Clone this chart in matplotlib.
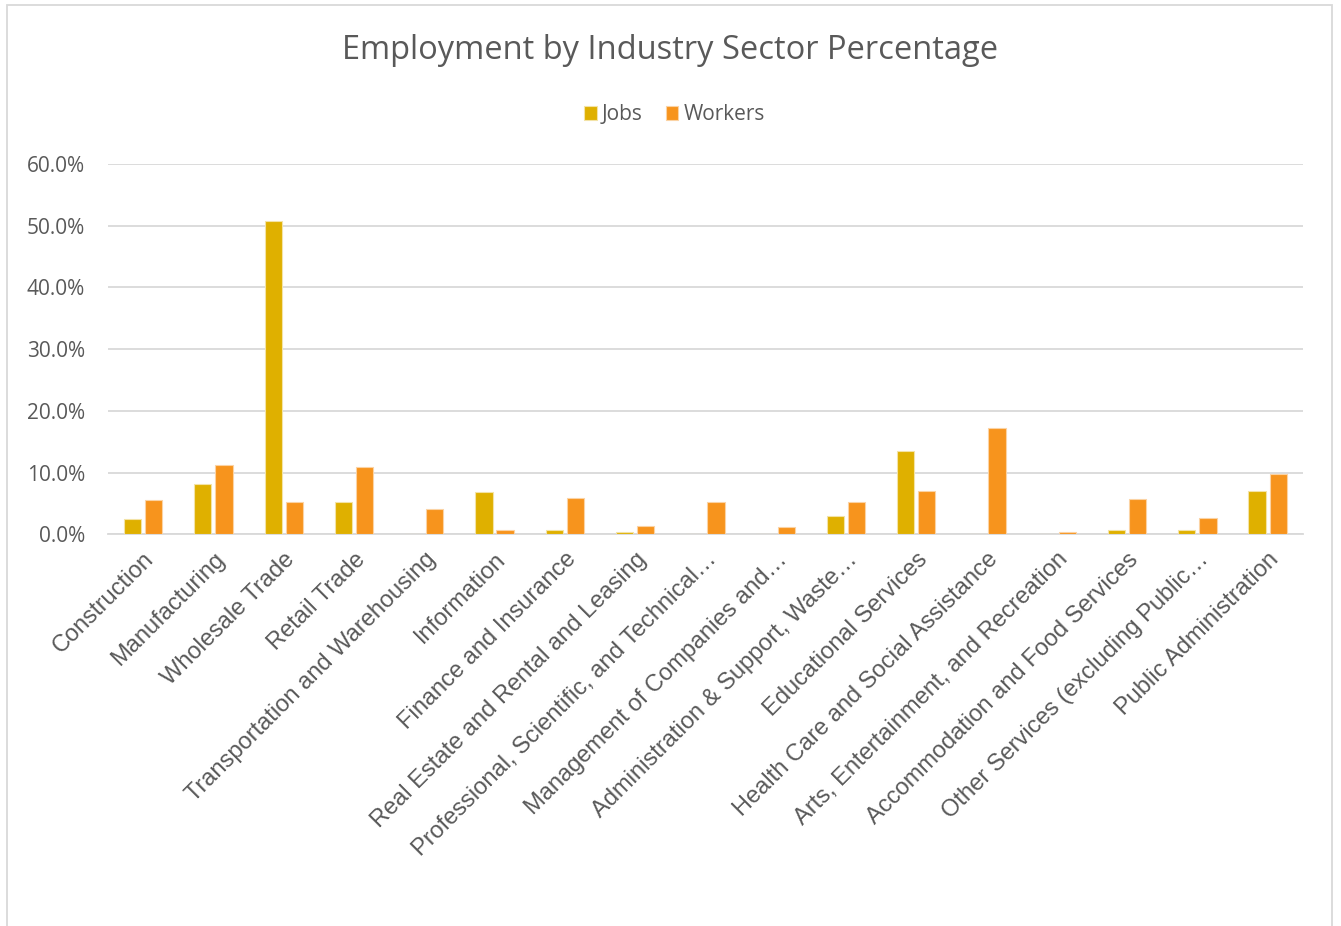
import numpy as np
import matplotlib.pyplot as plt
from matplotlib.patches import Rectangle
from matplotlib.ticker import FuncFormatter

# sector shares, in percent
sectors = [
    "Construction", "Manufacturing", "Wholesale Trade", "Retail Trade",
    "Transportation and Warehousing", "Information", "Finance and Insurance",
    "Real Estate and Rental and Leasing",
    "Professional, Scientific, and Technical\u2026",
    "Management of Companies and\u2026",
    "Administration & Support, Waste\u2026",
    "Educational Services", "Health Care and Social Assistance",
    "Arts, Entertainment, and Recreation",
    "Accommodation and Food Services",
    "Other Services (excluding Public\u2026",
    "Public Administration",
]
jobs = [2.5, 8.2, 50.8, 5.2, 0.0, 6.9, 0.8, 0.4, 0.0, 0.0, 3.0, 13.6, 0.0, 0.0, 0.7, 0.8, 7.0]
workers = [5.6, 11.3, 5.2, 10.9, 4.2, 0.7, 5.9, 1.4, 5.2, 1.2, 5.3, 7.0, 17.2, 0.35, 5.7, 2.6, 9.8]
yticks = [0, 10, 20, 30, 40, 50, 60]

jobs_color = "#DFB000"
workers_color = "#F7941D"
text_gray = "#595959"

fig = plt.figure(figsize=(13.41, 9.26), dpi=100)
ax = fig.add_axes([0.0805, 0.4228, 0.891, 0.4001])

x = np.arange(len(sectors))
w = 0.245
ax.bar(x - 0.15, jobs, w, color=jobs_color, edgecolor="#F3E3A6", linewidth=0.8,
       label="Jobs", zorder=3)
ax.bar(x + 0.15, workers, w, color=workers_color, edgecolor="#FBD3A4", linewidth=0.8,
       label="Workers", zorder=3)

ax.set_xlim(-0.5, len(sectors) - 0.5)
ax.set_ylim(0, 60)
ax.set_yticks(yticks)
ax.yaxis.set_major_formatter(FuncFormatter(lambda v, p: f"{v:.1f}%"))
ax.grid(axis="y", color="#D9D9D9", linewidth=1.3, zorder=0)
for s in ["top", "right", "left"]:
    ax.spines[s].set_visible(False)
ax.spines["bottom"].set_color("#D9D9D9")
ax.spines["bottom"].set_linewidth(1.3)
ax.tick_params(length=0)
ax.tick_params(axis="y", labelsize=15, labelcolor=text_gray, pad=16.5)
for t in ax.get_yticklabels():
    t.set_family("Open Sans")

ax.set_xticks(x)
ax.set_xticklabels(sectors, rotation=45, ha="right", va="top",
                   rotation_mode="anchor", fontsize=17, color=text_gray,
                   family="Liberation Sans")
ax.tick_params(axis="x", pad=10)

fig.text(0.5, 0.946, "Employment by Industry Sector Percentage", ha="center",
         va="center", fontsize=23.5, color=text_gray, family="Open Sans")

leg = fig.legend(loc="center", bbox_to_anchor=(0.503, 0.876), ncol=2, frameon=False,
                 prop={"family": "Open Sans", "size": 15}, handlelength=0.6,
                 handleheight=0.6, handletextpad=0.25, columnspacing=1.1)
for t in leg.get_texts():
    t.set_color(text_gray)

# chart area frame
fig.patches.append(Rectangle((7 / 1341, -0.05), 1325 / 1341, 1.05 - 5 / 926,
                             transform=fig.transFigure, fill=False,
                             edgecolor="#D9D9D9", linewidth=1.3))

fig.savefig("out.png", dpi=100)
